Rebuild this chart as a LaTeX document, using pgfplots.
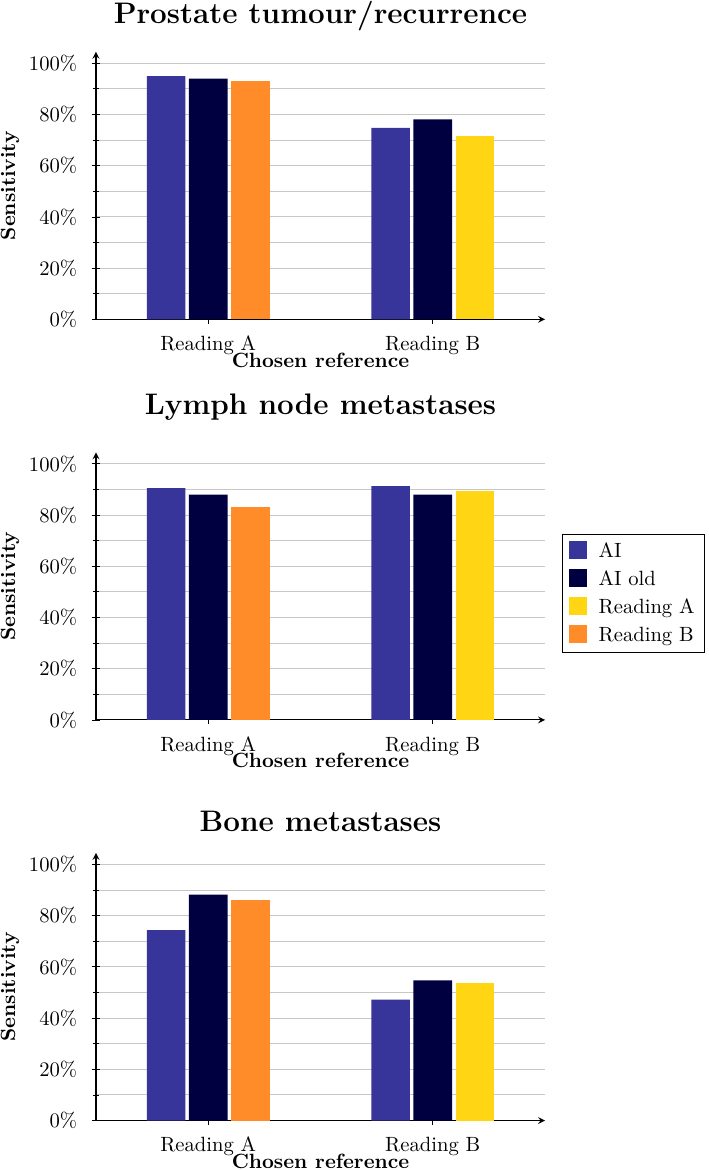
\documentclass[border=0pt]{standalone}
\usepackage{pgfplots}
\pgfplotsset{compat=1.18}
\definecolor{cAI}{HTML}{373599}
\definecolor{cAIold}{HTML}{000040}
\definecolor{cRA}{HTML}{FFD514}
\definecolor{cRB}{HTML}{FF8C28}
\pgfplotsset{
  mystyle/.style={
    scale only axis, width=217.8pt, height=129.8pt,
    axis lines=left, ymin=0, ymax=104.5, xmin=-0.5, xmax=1.5,
    ytick={0,20,...,100}, minor ytick={10,30,...,90},
    yticklabel={\pgfmathprintnumber{\tick}\%},
    xtick={0,1}, xticklabels={Reading A, Reading B},
    ymajorgrids, yminorgrids,
    grid style={black!22, line width=0.5pt},
    minor grid style={black!22, line width=0.5pt},
    tick align=center,
    tick style={black, line width=0.4pt},
    axis line style={black, line width=0.5pt},
    yticklabel style={xshift=-3.5pt},
    xticklabel style={anchor=base, yshift=-13pt},
    ylabel={\textbf{Sensitivity}},
    ylabel style={at={(axis description cs:-0.180,0.5)}, anchor=base, inner sep=0pt},
    xlabel={\textbf{Chosen reference}},
    xlabel style={at={(axis description cs:0.5,0)}, anchor=base, yshift=-23.3pt, inner sep=0pt},
    title style={at={(axis description cs:0.5,1)}, anchor=base, inner sep=0pt,
      font=\Large\bfseries},
    legend image code/.code={\fill[##1] (0pt,-3.6pt) rectangle (8.8pt,5.2pt);
      \path (12.5pt,0pt);},
  },
  bAI/.style={ybar, bar width=18.7pt, bar shift=-20.4pt, fill=cAI, draw=none},
  bAIold/.style={ybar, bar width=18.7pt, bar shift=0pt, fill=cAIold, draw=none},
  bRA/.style={ybar, bar width=18.7pt, bar shift=20.4pt, fill=cRA, draw=none},
  bRB/.style={ybar, bar width=18.7pt, bar shift=20.4pt, fill=cRB, draw=none},
}
\begin{document}
\begin{tikzpicture}
\begin{axis}[mystyle, at={(0pt,0pt)}, anchor=south west, title={Prostate tumour/recurrence},
  title style={yshift=7.7pt}]
\addplot[bAI] coordinates {(0,95.0) (1,74.8)};
\addplot[bAIold] coordinates {(0,94.0) (1,78.1)};
\addplot[bRA] coordinates {(1,71.6)};
\addplot[bRB] coordinates {(0,93.1)};
\end{axis}
\begin{axis}[mystyle, at={(0pt,-194.3pt)}, anchor=south west, title={Lymph node metastases},
  title style={yshift=12.2pt},
  legend style={at={(axis description cs:1.038,0.472)}, anchor=west, draw=black, line width=0.5pt,
    cells={anchor=west}, row sep=1pt, font=\normalsize}]
\addplot[bAI] coordinates {(0,90.5) (1,91.3)};
\addlegendentry{AI}
\addplot[bAIold] coordinates {(0,88.0) (1,88.0)};
\addlegendentry{AI old}
\addplot[bRA] coordinates {(1,89.3)};
\addlegendentry{Reading A}
\addplot[bRB] coordinates {(0,83.2)};
\addlegendentry{Reading B}
\end{axis}
\begin{axis}[mystyle, at={(0pt,-388.6pt)}, anchor=south west, title={Bone metastases},
  title style={yshift=4.2pt}]
\addplot[bAI] coordinates {(0,74.4) (1,47.2)};
\addplot[bAIold] coordinates {(0,88.2) (1,54.7)};
\addplot[bRA] coordinates {(1,53.6)};
\addplot[bRB] coordinates {(0,86.3)};
\end{axis}
\pgfresetboundingbox
\useasboundingbox (-46.56pt,-412.6pt) rectangle (297.3pt,154.9pt);
\end{tikzpicture}
\end{document}
